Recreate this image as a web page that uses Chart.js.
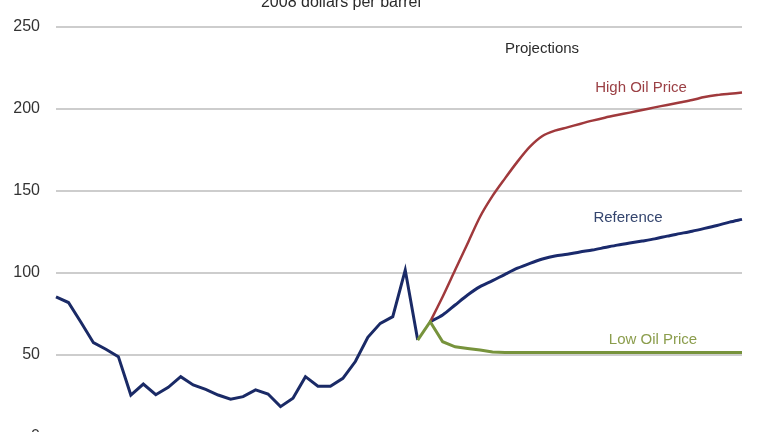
<!DOCTYPE html>
<html><head><meta charset="utf-8">
<script src="https://cdn.jsdelivr.net/npm/chart.js@4/dist/chart.umd.min.js"></script>
<style>
html,body{margin:0;padding:0;background:#fff;overflow:hidden;width:768px;height:432px;}
#wrap{width:768px;height:470px;position:relative;}
</style></head>
<body><div id="wrap"><canvas id="c" width="768" height="470"></canvas></div>
<script>
const years = [1980,1981,1982,1983,1984,1985,1986,1987,1988,1989,1990,1991,1992,1993,1994,1995,1996,1997,1998,1999,2000,2001,2002,2003,2004,2005,2006,2007,2008,2009,2010,2011,2012,2013,2014,2015,2016,2017,2018,2019,2020,2021,2022,2023,2024,2025,2026,2027,2028,2029,2030,2031,2032,2033,2034,2035];
// History 1980-2009
const history = [85.5,82,70,57.5,53.5,49,25.6,32.3,25.8,30.3,36.8,31.7,29,25.6,23,24.6,28.7,26.2,18.5,23.6,36.8,31,31,35.8,46,60.8,69.3,73.4,101.8,59.1];
// Projections 2010-2035
const reference = [70.3,74.4,80.5,86.6,91.7,95.3,99.2,102.9,105.9,108.5,110.4,111.4,112.8,114,115.5,117,118.3,119.5,120.8,122.5,124,125.5,127.2,129,131,132.7];
const highPrice = [70.3,85.5,101.8,118,134.3,147,157.7,167.9,177,183.5,186.8,188.8,190.9,192.9,194.7,196.3,197.8,199.4,201,202.5,204,205.5,207.3,208.5,209.3,210];
// Low price 2009-2035
const lowPrice = [59.1,70.3,58.1,55,54,53,51.8,51.6,51.6,51.6,51.6,51.6,51.6,51.6,51.6,51.6,51.6,51.6,51.6,51.6,51.6,51.6,51.6,51.6,51.6,51.6,51.6];
const yTicks = [0,50,100,150,200,250];
const titleText = '2008 dollars per barrel';
const projText = 'Projections';
const seriesNames = ['High Oil Price','Reference','Low Oil Price'];

function place(arr, startYear){
  const out = years.map(()=>null);
  const s = years.indexOf(startYear);
  arr.forEach((v,i)=>{ out[s+i]=v; });
  return out;
}

const labelsPlugin = {
  id:'labelsPlugin',
  afterDraw(chart){
    const ctx = chart.ctx;
    ctx.save();
    ctx.textAlign='center';
    ctx.textBaseline='middle';
    ctx.font='16px "Liberation Sans", Arial, sans-serif';
    ctx.fillStyle='#2b2b2b';
    ctx.fillText(titleText, 341, 3);
    ctx.font='15px "Liberation Sans", Arial, sans-serif';
    ctx.fillText(projText, 542, 49);
    ctx.fillStyle='#9b4045';
    ctx.fillText(seriesNames[0], 641, 88);
    ctx.fillStyle='#34456e';
    ctx.fillText(seriesNames[1], 628, 218);
    ctx.fillStyle='#8b9d4c';
    ctx.fillText(seriesNames[2], 653, 340);
    ctx.restore();
  }
};

new Chart(document.getElementById('c'), {
  type:'line',
  data:{
    labels: years,
    datasets:[
      {label:'Low Oil Price', data: place(lowPrice,2009), borderColor:'#77933c', borderWidth:3, pointRadius:0, tension:0, order:0},
      {label:'History', data: place(history,1980), borderColor:'#1a2a66', borderWidth:3, pointRadius:0, tension:0, order:1},
      {label:'High Oil Price', data: place(highPrice,2010), borderColor:'#a0393c', borderWidth:2.5, pointRadius:0, tension:0.3, order:2},
      {label:'Reference', data: place(reference,2010), borderColor:'#1a2a6c', borderWidth:3, pointRadius:0, tension:0.3, order:3}
    ]
  },
  options:{
    responsive:false,
    animation:false,
    layout:{padding:{left:0,right:26,top:27,bottom:33}},
    plugins:{legend:{display:false},tooltip:{enabled:false},title:{display:false}},
    scales:{
      x:{display:false, offset:false},
      y:{
        min:0,max:250,
        afterFit(s){ s.width=56; },
        afterBuildTicks(s){ s.ticks = yTicks.map(v=>({value:v})); },
        ticks:{padding:16,color:'#333',font:{size:16,family:'"Liberation Sans", Arial, sans-serif'}},
        grid:{color:'#cdcdcd',lineWidth:2,drawTicks:false},
        border:{display:false}
      }
    }
  },
  plugins:[labelsPlugin]
});
</script></body></html>
